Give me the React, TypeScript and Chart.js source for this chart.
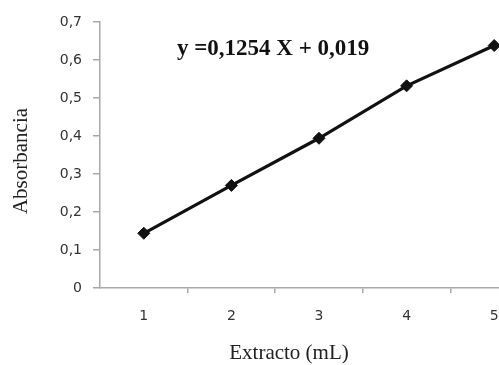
import React, { useEffect, useRef } from "react";
import { Chart, registerables } from "chart.js";

Chart.register(...registerables);

// Calibration curve: absorbance against extract volume
const volumes = ["1", "2", "3", "4", "5"];
const absorbance = [0.144, 0.27, 0.394, 0.532, 0.638];
const yTicks = [0, 0.1, 0.2, 0.3, 0.4, 0.5, 0.6, 0.7];
const equationText = "y =0,1254 X + 0,019";
const xTitle = "Extracto (mL)";
const yTitle = "Absorbancia";

const serif = "'Liberation Serif', 'DejaVu Serif', serif";
const sans = "'DejaVu Sans', 'Open Sans', sans-serif";

// Writes the regression equation and both axis titles
const annotations = {
  id: "annotations",
  afterDraw(chart: any) {
    const { ctx, chartArea } = chart;
    ctx.save();
    ctx.fillStyle = "#111";
    ctx.textBaseline = "alphabetic";
    ctx.textAlign = "left";
    ctx.font = `bold 23px ${serif}`;
    ctx.fillText(equationText, chartArea.left + 77, 55);

    ctx.font = `21px ${serif}`;
    ctx.fillStyle = "#222";
    ctx.textAlign = "center";
    ctx.textBaseline = "middle";
    ctx.fillText(xTitle, 289, 353);

    ctx.translate(21, (chartArea.top + chartArea.bottom) / 2 + 6);
    ctx.rotate(-Math.PI / 2);
    ctx.fillText(yTitle, 0, 0);
    ctx.restore();
  },
};

export default function App() {
  const canvasRef = useRef<HTMLCanvasElement | null>(null);

  useEffect(() => {
    if (!canvasRef.current) return;
    const chart = new Chart(canvasRef.current, {
      type: "line",
      data: {
        labels: volumes,
        datasets: [
          {
            data: absorbance,
            borderColor: "#111",
            backgroundColor: "#111",
            borderWidth: 3.2,
            pointStyle: "rectRot",
            pointRadius: 6,
            pointBackgroundColor: "#111",
            pointBorderColor: "#111",
            pointBorderWidth: 1,
            tension: 0,
            fill: false,
          },
        ],
      },
      options: {
        responsive: false,
        animation: false,
        events: [],
        layout: { padding: { top: 22, right: 5, left: 0, bottom: 0 } },
        plugins: {
          legend: { display: false },
          tooltip: { enabled: false },
        },
        scales: {
          x: {
            type: "category",
            offset: true,
            afterFit: (scale: any) => {
              scale.height = 77;
            },
            border: { display: true, color: "#a8a8a8", width: 1.5 },
            grid: {
              offset: true,
              drawOnChartArea: false,
              drawTicks: true,
              tickLength: 5,
              lineWidth: 1.5,
              color: (c: any) => (c.index === 0 ? "rgba(0,0,0,0)" : "#a8a8a8"),
            },
            ticks: {
              padding: 15,
              color: "#333",
              font: { family: sans, size: 14 },
            },
          },
          y: {
            min: 0,
            max: 0.7,
            afterFit: (scale: any) => {
              scale.width = 100;
            },
            afterBuildTicks: (scale: any) => {
              scale.ticks = yTicks.map((v) => ({ value: v }));
            },
            border: { display: true, color: "#a8a8a8", width: 1.5 },
            grid: {
              drawOnChartArea: false,
              drawTicks: true,
              tickLength: 7,
              lineWidth: 1.5,
              color: "#a8a8a8",
            },
            ticks: {
              padding: 11,
              color: "#333",
              font: { family: sans, size: 14 },
              callback: (v: any) => {
                const n = Number(v);
                return n === 0 ? "0" : n.toFixed(1).replace(".", ",");
              },
            },
          },
        },
      },
      plugins: [annotations],
    });
    return () => chart.destroy();
  }, []);

  return (
    <div
      style={{
        position: "fixed",
        left: 0,
        top: 0,
        width: 499,
        height: 365,
        overflow: "hidden",
        background: "#fff",
      }}
    >
      <canvas ref={canvasRef} width={545} height={365} style={{ display: "block" }} />
    </div>
  );
}
